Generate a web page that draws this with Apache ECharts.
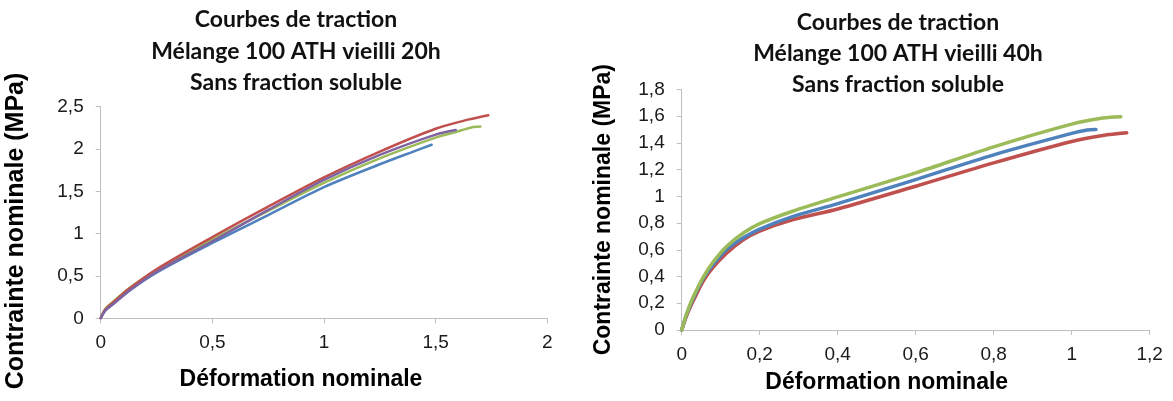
<!DOCTYPE html>
<html>
<head>
<meta charset="utf-8">
<script src="https://cdn.jsdelivr.net/npm/echarts@6/dist/echarts.min.js"></script>
<style>
html,body{margin:0;padding:0;background:#fff;}
#chart{width:1173px;height:401px;}
</style>
</head>
<body>
<div id="chart"></div>
<script>
const titleLeft = 'Courbes de traction\nMélange 100 ATH vieilli 20h\nSans fraction soluble';
const titleRight = 'Courbes de traction\nMélange 100 ATH vieilli 40h\nSans fraction soluble';
const xAxisName = 'Déformation nominale';
const yAxisName = 'Contrainte nominale (MPa)';

// ---- Left chart: vieilli 20h ----
const l_blue_x   = [0, 0.02, 0.057, 0.13, 0.25, 0.5, 0.75, 1.0, 1.25, 1.40, 1.482];
const l_blue_y   = [0, 0.09, 0.17, 0.33, 0.54, 0.89, 1.22, 1.55, 1.82, 1.97, 2.05];
const l_red_x    = [0, 0.02, 0.057, 0.13, 0.25, 0.5, 0.75, 1.0, 1.25, 1.5, 1.65, 1.736];
const l_red_y    = [0, 0.10, 0.19, 0.355, 0.58, 0.96, 1.32, 1.665, 1.97, 2.24, 2.35, 2.40];
const l_green_x  = [0, 0.02, 0.057, 0.13, 0.25, 0.5, 0.75, 1.0, 1.25, 1.5, 1.59, 1.66, 1.70];
const l_green_y  = [0, 0.11, 0.20, 0.36, 0.57, 0.93, 1.27, 1.60, 1.89, 2.135, 2.20, 2.255, 2.265];
const l_purple_x = [0, 0.02, 0.057, 0.13, 0.25, 0.5, 0.75, 1.0, 1.25, 1.5, 1.59];
const l_purple_y = [0, 0.09, 0.17, 0.33, 0.55, 0.91, 1.28, 1.635, 1.93, 2.17, 2.224];

// ---- Right chart: vieilli 40h ----
const r_green_x = [0, 0.013, 0.03, 0.056, 0.081, 0.115, 0.158, 0.2, 0.286, 0.4, 0.6, 0.8, 1.0, 1.08, 1.126];
const r_green_y = [0, 0.125, 0.25, 0.40, 0.51, 0.625, 0.725, 0.795, 0.89, 0.995, 1.175, 1.37, 1.54, 1.585, 1.595];
const r_blue_x  = [0, 0.013, 0.03, 0.056, 0.081, 0.115, 0.158, 0.2, 0.286, 0.4, 0.6, 0.8, 1.0, 1.04, 1.062];
const r_blue_y  = [0, 0.12, 0.24, 0.39, 0.49, 0.60, 0.69, 0.755, 0.85, 0.945, 1.125, 1.31, 1.47, 1.495, 1.50];
const r_red_x   = [0, 0.013, 0.03, 0.056, 0.081, 0.115, 0.158, 0.2, 0.286, 0.4, 0.6, 0.8, 1.0, 1.08, 1.141];
const r_red_y   = [0, 0.11, 0.22, 0.37, 0.47, 0.575, 0.675, 0.74, 0.825, 0.905, 1.075, 1.25, 1.41, 1.455, 1.475];

const C_BLUE = '#4f81bd', C_RED = '#c0504d', C_GREEN = '#9bbb59', C_PURPLE = '#8064a2';

function pairs(xs, ys) { return xs.map((x, i) => [x, ys[i]]); }
function fmt(v) { return String(+v.toFixed(2)).replace('.', ','); }

const axisLineStyle = { show: true, lineStyle: { color: '#bfbfbf', width: 1 } };
const tickStyle = { show: true, inside: false, length: 5, lineStyle: { color: '#bfbfbf', width: 1 } };
const labelStyle = { fontFamily: 'Liberation Sans', fontSize: 19, color: '#1a1a1a', formatter: fmt };
const nameFont = { fontFamily: 'Liberation Sans', fontWeight: 'bold', color: '#000' };

function lineSeries(name, xi, yi, xs, ys, color, width) {
  return {
    name: name, type: 'line', xAxisIndex: xi, yAxisIndex: yi,
    data: pairs(xs, ys), showSymbol: false, smooth: 0.3,
    lineStyle: { color: color, width: width, cap: 'round', join: 'round' }, itemStyle: { color: color },
    silent: true, animation: false
  };
}

const chart = echarts.init(document.getElementById('chart'), null, { renderer: 'canvas' });
chart.setOption({
  backgroundColor: '#fff',
  animation: false,
  title: [
    { text: titleLeft, left: 296, top: 4, padding: 0, textAlign: 'center',
      textStyle: { fontFamily: 'Lato', fontWeight: 'bold', fontSize: 23, lineHeight: 31.5, color: '#111' } },
    { text: titleRight, left: 898, top: 7, padding: 0, textAlign: 'center',
      textStyle: { fontFamily: 'Lato', fontWeight: 'bold', fontSize: 23, lineHeight: 31, color: '#111' } }
  ],
  grid: [
    { left: 100.7, width: 446.6, top: 106.7, height: 211.6, containLabel: false },
    { left: 681.7, width: 468, top: 89.3, height: 240.7, containLabel: false }
  ],
  xAxis: [
    { type: 'value', gridIndex: 0, min: 0, max: 2, interval: 0.5,
      axisLine: axisLineStyle, axisTick: tickStyle, splitLine: { show: false },
      axisLabel: Object.assign({ margin: 15 }, labelStyle),
      name: xAxisName, nameLocation: 'middle', nameGap: 50,
      nameTextStyle: Object.assign({ fontSize: 23, padding: [0, 46, 0, 0] }, nameFont) },
    { type: 'value', gridIndex: 1, min: 0, max: 1.2, interval: 0.2,
      axisLine: axisLineStyle, axisTick: tickStyle, splitLine: { show: false },
      axisLabel: Object.assign({ margin: 15 }, labelStyle),
      name: xAxisName, nameLocation: 'middle', nameGap: 41,
      nameTextStyle: Object.assign({ fontSize: 23, padding: [0, 58, 0, 0] }, nameFont) }
  ],
  yAxis: [
    { type: 'value', gridIndex: 0, min: 0, max: 2.5, interval: 0.5,
      axisLine: axisLineStyle, axisTick: tickStyle, splitLine: { show: false },
      axisLabel: Object.assign({ margin: 17 }, labelStyle),
      name: yAxisName, nameLocation: 'middle', nameGap: 72,
      nameTextStyle: Object.assign({ fontSize: 25, padding: [0, 37, 0, 0] }, nameFont) },
    { type: 'value', gridIndex: 1, min: 0, max: 1.8, interval: 0.2,
      axisLine: axisLineStyle, axisTick: tickStyle, splitLine: { show: false },
      axisLabel: Object.assign({ margin: 17 }, labelStyle),
      name: yAxisName, nameLocation: 'middle', nameGap: 67,
      nameTextStyle: Object.assign({ fontSize: 23 }, nameFont) }
  ],
  series: [
    lineSeries('Bleu 20h', 0, 0, l_blue_x, l_blue_y, C_BLUE, 2.5),
    lineSeries('Vert 20h', 0, 0, l_green_x, l_green_y, C_GREEN, 2.5),
    lineSeries('Rouge 20h', 0, 0, l_red_x, l_red_y, C_RED, 2.5),
    lineSeries('Violet 20h', 0, 0, l_purple_x, l_purple_y, C_PURPLE, 2.5),
    lineSeries('Rouge 40h', 1, 1, r_red_x, r_red_y, C_RED, 3.5),
    lineSeries('Bleu 40h', 1, 1, r_blue_x, r_blue_y, C_BLUE, 3.5),
    lineSeries('Vert 40h', 1, 1, r_green_x, r_green_y, C_GREEN, 3.5)
  ]
});
</script>
</body>
</html>
